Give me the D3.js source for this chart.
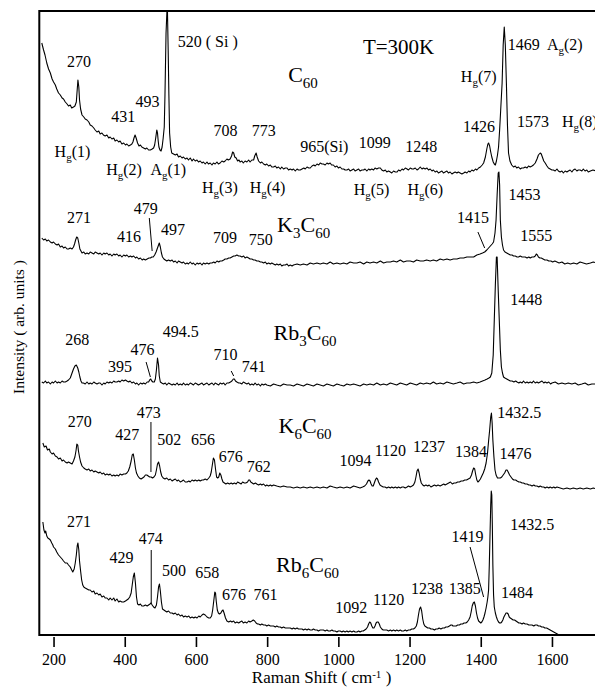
<!DOCTYPE html>
<html><head><meta charset="utf-8">
<script src="https://cdn.jsdelivr.net/npm/d3@7/dist/d3.min.js"></script>
<style>
body{margin:0;background:#fff}
svg{display:block}
svg text{font-family:"Liberation Serif","Tinos","Times New Roman","Noto Serif","DejaVu Serif",serif !important;fill:#000}
</style></head><body>
<svg id="c" width="595" height="689" font-family="Liberation Serif, DejaVu Serif, serif"></svg>
<script>
// ---------- data (Raman shift in cm^-1, intensity in arb. units incl. vertical offsets) ----------
const xTicks = [200,400,600,800,1000,1200,1400,1600];

const c60 = [[167,592],[172,585],[176,580],[181,572],[186,566],[191,562],[196,556],[200,553],[205,550],[209,546],[214,542],[219,540],[224,537],[228,536],[233,533],[238,531],[242,529],[247,530],[251,527],[256,528],[260,529],[264,533],[266,543],[268.5,555],[271,548],[273,535],[276,526],[280,520],[285,518],[289,516],[294,515],[299,513],[303,510],[308,509],[313,507],[317,505],[322,503],[327,504],[331,501],[336,502],[340,500],[345,499],[350,500],[355,497],[359,498],[364,496],[369,497],[373,494],[378,495],[383,493],[387,494],[392,491],[397,492],[402,490],[406,491],[411,489],[416,490],[420,491],[423,493],[426,497],[429,500],[432,497],[436,492],[440,489],[444,490],[448,488],[453,487],[458,486],[462,487],[467,485],[472,485],[477,486],[481,487],[484,490],[487,497],[490,505],[492,502],[494,494],[496,488],[499,485],[502,484],[505,488],[508,497],[511,508],[513,540],[516,602],[518.5,624],[520,624],[522,585],[524,540],[526,502],[529,488],[532,482],[537,481],[542,480],[547,481],[551,478],[556,479],[561,477],[565,478],[570,476],[575,477],[579,475],[584,477],[589,474],[593,476],[598,474],[603,475],[607,473],[612,474],[617,472],[621,473],[626,471],[631,473],[635,471],[640,472],[645,470],[649,472],[654,471],[659,473],[663,471],[668,472],[673,474],[678,473],[682,474],[687,476],[691,475],[696,476],[700,479],[703,483],[706,482],[709,478],[713,477],[717,474],[721,475],[724,473],[729,474],[733,472],[738,474],[743,473],[748,475],[752,473],[757,475],[762,475],[765,479],[769,482],[772,478],[776,474],[781,472],[785,473],[790,471],[795,470],[799,471],[804,469],[809,470],[813,468],[818,468],[823,469],[827,467],[832,468],[837,466],[841,468],[846,466],[851,467],[856,467],[860,465],[865,466],[870,465],[874,466],[879,464],[884,466],[888,465],[893,465],[898,466],[903,467],[907,466],[912,468],[917,467],[921,467],[926,469],[931,470],[935,469],[940,471],[945,470],[949,472],[954,471],[958,471],[963,470],[968,472],[972,471],[977,472],[981,470],[986,470],[991,468],[996,469],[1000,467],[1005,468],[1010,466],[1015,466],[1019,465],[1024,465],[1029,466],[1033,464],[1038,465],[1043,466],[1047,464],[1052,465],[1057,466],[1061,464],[1066,465],[1071,465],[1075,466],[1080,464],[1085,466],[1089,465],[1094,466],[1099,465],[1103,467],[1108,466],[1113,467],[1118,467],[1122,465],[1127,464],[1132,465],[1136,463],[1141,464],[1146,463],[1150,462],[1155,464],[1160,463],[1165,463],[1169,465],[1174,464],[1179,466],[1183,465],[1188,467],[1193,466],[1197,465],[1202,467],[1207,466],[1211,466],[1216,467],[1221,465],[1225,466],[1230,468],[1235,466],[1239,467],[1244,466],[1249,467],[1253,465],[1258,466],[1263,464],[1267,465],[1272,463],[1277,464],[1281,462],[1286,463],[1291,464],[1295,462],[1300,463],[1305,464],[1309,462],[1314,463],[1319,461],[1323,462],[1328,463],[1333,462],[1337,463],[1342,462],[1347,461],[1352,462],[1356,463],[1361,462],[1366,464],[1370,463],[1375,465],[1380,464],[1385,466],[1389,465],[1394,467],[1399,468],[1404,470],[1408,472],[1413,478],[1417,486],[1420,491],[1422,492],[1425,489],[1428,483],[1431,478],[1435,473],[1438,471],[1441,470],[1444,474],[1447,480],[1450,488],[1453,505],[1456,525],[1460,552],[1463,590],[1466,608],[1469,590],[1472,552],[1475,510],[1478,482],[1482,474],[1487,470],[1492,468],[1497,469],[1501,467],[1506,468],[1511,466],[1515,467],[1520,467],[1525,468],[1530,467],[1534,469],[1539,468],[1544,469],[1548,470],[1553,472],[1558,476],[1562,480],[1567,482],[1570,481],[1574,477],[1577,474],[1581,472],[1586,469],[1590,467],[1595,466],[1600,465],[1604,465],[1609,464],[1614,466],[1618,464],[1623,463],[1628,464],[1632,462],[1637,464],[1642,463],[1646,464],[1651,465],[1656,463],[1660,465],[1665,466],[1670,464],[1674,465],[1679,465],[1684,464],[1688,466],[1693,464],[1698,465],[1702,463],[1708,464],[1715,465],[1725,464]];

const k3c60 = [[167,397],[172,395],[177,396],[181,394],[186,395],[191,393],[196,392],[200,393],[205,391],[210,390],[214,391],[219,388],[224,389],[228,387],[233,388],[238,386],[242,386],[247,387],[252,386],[256,388],[259,391],[262,395],[265,398],[268,397],[271,392],[274,386],[277,384],[280,382],[285,383],[289,381],[294,382],[299,381],[303,383],[308,382],[313,381],[317,383],[322,382],[327,381],[331,382],[336,380],[341,382],[345,381],[350,382],[355,380],[359,381],[364,379],[369,381],[373,380],[378,381],[383,379],[387,380],[392,378],[397,380],[402,379],[406,380],[411,378],[416,379],[420,378],[425,379],[430,377],[434,378],[439,376],[444,377],[449,375],[453,376],[458,375],[463,376],[468,377],[472,377],[476,378],[480,378],[484,380],[488,383],[491,386],[494,389],[497,392],[500,388],[503,382],[506,378],[510,376],[514,375],[518,374],[523,375],[528,374],[533,375],[537,373],[542,374],[547,372],[551,374],[556,373],[561,372],[565,373],[570,371],[575,372],[579,371],[584,373],[589,371],[593,372],[598,370],[603,372],[607,371],[612,372],[617,370],[621,372],[626,371],[631,372],[636,371],[640,372],[645,372],[650,373],[654,372],[659,374],[664,373],[668,374],[673,374],[678,375],[682,376],[687,376],[692,377],[696,377],[701,378],[706,379],[710,379],[715,380],[720,379],[724,379],[729,378],[734,379],[738,377],[743,378],[748,377],[752,376],[757,376],[762,375],[766,375],[771,374],[776,374],[781,373],[785,373],[790,372],[795,373],[799,371],[804,372],[809,371],[813,372],[818,371],[823,370],[827,371],[832,370],[837,371],[841,369],[846,370],[851,370],[856,371],[860,369],[865,370],[870,369],[874,370],[884,371],[893,370],[902,371],[912,370],[921,372],[930,371],[940,372],[949,371],[958,372],[968,371],[977,373],[986,371],[996,372],[1005,371],[1015,372],[1024,371],[1033,373],[1043,372],[1052,372],[1061,373],[1071,371],[1080,373],[1089,372],[1099,373],[1108,372],[1118,374],[1127,372],[1136,373],[1146,373],[1155,374],[1164,373],[1174,375],[1183,373],[1192,374],[1202,374],[1211,373],[1220,375],[1230,374],[1239,374],[1248,375],[1258,374],[1267,375],[1276,374],[1286,376],[1295,375],[1305,376],[1314,375],[1323,376],[1333,376],[1342,377],[1352,377],[1361,378],[1370,378],[1380,378],[1389,380],[1398,381],[1405,382],[1411,383],[1417,385],[1422,387],[1427,389],[1432,391],[1436,393],[1440,402],[1443,415],[1446,440],[1449,462],[1451,463],[1453,450],[1455,415],[1458,398],[1461,390],[1464,385],[1468,383],[1473,382],[1478,381],[1483,380],[1488,380],[1492,379],[1497,379],[1502,378],[1506,378],[1511,379],[1516,378],[1520,378],[1525,378],[1530,377],[1535,378],[1539,377],[1544,378],[1549,378],[1553,379],[1556,381],[1559,380],[1562,378],[1566,377],[1570,377],[1575,376],[1580,375],[1586,375],[1591,374],[1597,374],[1602,373],[1608,374],[1614,373],[1620,372],[1628,373],[1636,371],[1644,372],[1652,371],[1661,372],[1670,371],[1679,373],[1688,372],[1697,371],[1708,372],[1716,373],[1725,372]];

const rb3c60 = [[167,253],[172,252],[177,254],[181,252],[186,253],[191,251],[196,253],[200,252],[205,254],[210,252],[214,253],[219,252],[224,254],[228,253],[233,253],[238,254],[242,255],[247,257],[252,262],[256,266],[260,269],[264,270],[268,267],[271,263],[274,258],[277,254],[280,252],[284,252],[289,251],[294,253],[299,251],[303,252],[308,251],[313,253],[317,252],[322,251],[327,252],[331,252],[336,250],[341,252],[345,251],[350,253],[355,252],[359,253],[364,252],[369,254],[373,253],[378,253],[383,254],[387,253],[392,255],[397,254],[402,255],[406,254],[411,253],[415,254],[420,252],[425,253],[430,251],[434,252],[439,250],[444,252],[449,251],[453,252],[458,251],[463,253],[467,253],[470,255],[473,256],[476,254],[479,253],[483,253],[486,256],[489,265],[492,277],[495,270],[497,259],[500,253],[504,252],[509,251],[514,252],[518,250],[523,252],[528,251],[533,250],[537,251],[542,250],[547,252],[551,250],[556,251],[561,250],[565,252],[570,250],[575,251],[579,250],[584,252],[589,251],[593,250],[598,252],[603,251],[607,250],[612,251],[617,252],[621,250],[626,251],[631,252],[636,250],[640,251],[645,252],[650,250],[654,252],[659,251],[664,250],[668,252],[673,251],[678,252],[682,250],[687,252],[692,252],[697,253],[701,254],[705,256],[708,256],[711,254],[715,253],[720,252],[724,252],[729,251],[733,253],[738,252],[743,251],[748,252],[752,250],[757,251],[762,250],[766,252],[771,250],[776,251],[781,249],[785,251],[790,250],[795,251],[799,250],[809,249],[818,251],[827,250],[837,249],[846,251],[856,250],[865,250],[874,249],[884,251],[893,250],[902,249],[912,251],[921,250],[930,249],[940,251],[949,250],[958,249],[968,251],[977,250],[986,249],[996,251],[1005,250],[1015,249],[1024,251],[1033,250],[1043,251],[1052,250],[1061,249],[1071,251],[1080,250],[1089,251],[1099,250],[1108,252],[1118,250],[1127,251],[1136,250],[1146,252],[1155,251],[1164,250],[1174,252],[1183,251],[1192,250],[1202,252],[1211,251],[1220,250],[1230,252],[1239,251],[1248,252],[1258,251],[1267,253],[1276,251],[1286,252],[1295,251],[1305,253],[1314,252],[1323,251],[1333,252],[1342,253],[1352,251],[1361,252],[1370,252],[1380,253],[1389,252],[1398,253],[1405,254],[1412,255],[1418,256],[1423,257],[1427,258],[1431,262],[1435,280],[1438,315],[1441,350],[1444,378],[1446,378],[1449,345],[1452,315],[1455,285],[1458,268],[1461,262],[1464,258],[1468,257],[1473,256],[1478,255],[1483,254],[1488,254],[1493,253],[1498,254],[1502,253],[1507,252],[1511,253],[1516,252],[1520,254],[1525,252],[1530,253],[1534,252],[1539,253],[1544,252],[1548,254],[1553,252],[1558,253],[1562,252],[1567,253],[1572,254],[1577,252],[1581,253],[1586,252],[1591,253],[1596,251],[1600,252],[1609,253],[1618,251],[1628,252],[1637,251],[1646,252],[1656,251],[1665,252],[1674,250],[1684,251],[1693,252],[1702,250],[1712,251],[1725,251]];

const k6c60 = [[170,192],[174,188],[179,189],[183,185],[188,186],[191,183],[196,181],[200,182],[205,179],[210,178],[214,176],[219,177],[224,174],[228,175],[233,173],[238,172],[242,173],[247,172],[252,171],[256,174],[260,178],[263,184],[265.5,191],[268,190],[270,184],[273,178],[276,173],[280,169],[285,167],[289,166],[294,165],[299,166],[303,164],[308,165],[313,163],[317,164],[322,163],[327,162],[331,163],[336,161],[341,162],[345,160],[350,161],[355,160],[359,161],[364,159],[369,160],[373,159],[378,160],[383,159],[387,161],[392,160],[397,161],[402,161],[406,162],[410,164],[414,168],[418,174],[421,180],[424,181],[427,175],[430,167],[433,162],[437,159],[441,157],[446,156],[450,157],[454,158],[458,160],[462,160],[466,159],[470,158],[474,158],[478,157],[482,158],[486,160],[489,165],[492,171],[495,173],[498,169],[501,163],[504,159],[508,157],[513,156],[518,157],[523,155],[528,156],[533,154],[537,155],[542,156],[547,154],[551,155],[556,153],[561,154],[565,155],[570,153],[575,153],[580,154],[584,153],[589,155],[594,154],[598,155],[603,154],[608,155],[612,154],[617,155],[621,155],[626,156],[631,155],[636,157],[640,159],[643,163],[646,170],[649,177],[652,175],[655,166],[658,158],[661,157],[664,158],[667,162],[670,160],[673,156],[676,153],[680,152],[684,151],[689,152],[694,151],[699,152],[703,151],[708,152],[713,151],[717,153],[722,152],[727,151],[731,153],[736,152],[740,152],[745,153],[748,155],[751,155],[754,153],[758,152],[762,151],[767,152],[771,151],[776,150],[781,151],[785,150],[790,151],[795,149],[799,150],[804,149],[809,150],[813,149],[818,150],[827,149],[837,148],[846,149],[856,148],[865,148],[874,147],[884,148],[893,147],[902,148],[912,147],[921,148],[930,147],[940,148],[949,147],[958,148],[968,147],[977,149],[986,148],[996,147],[1005,148],[1015,147],[1024,148],[1033,147],[1043,149],[1052,148],[1061,147],[1068,148],[1074,149],[1079,151],[1083,154],[1086,155],[1089,154],[1092,151],[1095,149],[1098,149],[1101,152],[1104,155],[1107,157],[1110,156],[1113,153],[1117,150],[1121,149],[1126,148],[1131,148],[1136,147],[1141,148],[1146,147],[1150,148],[1155,147],[1160,148],[1165,147],[1169,148],[1174,147],[1179,148],[1183,148],[1188,147],[1193,148],[1197,149],[1202,148],[1207,149],[1211,150],[1215,153],[1218,158],[1221,164],[1224,166],[1227,162],[1230,156],[1233,152],[1237,150],[1241,149],[1246,150],[1251,149],[1255,150],[1260,148],[1265,149],[1270,150],[1275,149],[1280,150],[1286,149],[1291,150],[1296,151],[1300,150],[1305,151],[1310,152],[1315,153],[1320,151],[1325,152],[1330,152],[1335,153],[1340,153],[1345,154],[1350,154],[1355,155],[1360,155],[1365,156],[1370,157],[1374,160],[1377,164],[1380,167],[1383,166],[1386,160],[1389,155],[1392,153],[1395,154],[1399,156],[1403,159],[1407,162],[1411,166],[1415,172],[1419,182],[1422,194],[1425,205],[1428,218],[1430,222],[1432,212],[1434,195],[1437,178],[1440,165],[1443,160],[1447,157],[1451,157],[1455,157],[1459,158],[1463,160],[1467,162],[1471,165],[1474,165],[1477,163],[1481,160],[1485,158],[1489,156],[1493,155],[1498,155],[1502,154],[1507,153],[1511,153],[1516,152],[1520,152],[1525,151],[1530,151],[1535,150],[1539,150],[1544,149],[1549,150],[1553,149],[1558,149],[1563,148],[1567,149],[1572,148],[1577,148],[1581,147],[1586,148],[1591,147],[1595,148],[1600,147],[1605,148],[1609,147],[1614,148],[1623,147],[1632,146],[1642,147],[1651,146],[1660,147],[1670,146],[1679,147],[1688,146],[1698,147],[1708,146],[1716,147],[1725,146]];

const rb6c60 = [[170,113],[173,105],[176,102],[178,104],[181,99],[184,97],[188,96],[191,95],[195,92],[198,90],[200,88],[205,86],[209,83],[214,80],[219,78],[224,76],[228,74],[233,72],[238,72],[242,70],[247,68],[251,65],[254,63],[258,66],[261,72],[264,80],[266.5,89],[268.5,92],[271,85],[273,74],[276,64],[279,55],[282,50],[285,48],[289,47],[294,46],[299,45],[303,45],[308,43],[313,44],[317,41],[322,42],[327,40],[331,41],[336,38],[341,39],[345,37],[350,37],[355,35],[359,37],[364,35],[369,37],[373,34],[378,36],[383,33],[387,34],[392,33],[397,33],[402,34],[406,35],[410,36],[414,38],[418,42],[421,50],[424,58],[427,62],[430,52],[433,38],[436,31],[440,30],[444,31],[448,29],[453,29],[458,30],[463,29],[467,30],[471,31],[474,32],[477,30],[481,28],[485,27],[489,30],[492,38],[495,48],[497.5,51],[500,44],[503,33],[506,26],[510,25],[514,24],[518,23],[523,24],[528,22],[533,22],[537,21],[542,22],[547,20],[551,21],[556,19],[561,20],[565,18],[570,19],[575,18],[580,19],[584,17],[589,18],[594,17],[598,18],[603,17],[608,19],[612,18],[617,20],[621,21],[626,20],[631,18],[636,17],[640,17],[644,19],[647,25],[650,34],[653,43],[655,42],[657,34],[660,25],[663,22],[666,21],[670,22],[673,24],[676,25],[679,22],[683,17],[687,14],[692,13],[697,14],[701,13],[706,14],[710,12],[715,13],[720,12],[724,13],[729,14],[733,12],[738,13],[743,12],[748,14],[752,13],[757,14],[761,15],[765,14],[769,12],[773,11],[776,11],[781,10],[785,11],[790,10],[795,10],[799,9],[804,10],[809,9],[813,9],[818,9],[823,8],[827,9],[832,8],[837,8],[841,7],[846,8],[851,7],[856,7],[860,7],[865,7],[870,6],[874,7],[879,6],[884,7],[888,6],[893,6],[898,6],[902,5],[907,6],[912,5],[916,6],[921,5],[926,5],[930,6],[935,5],[940,5],[944,4],[949,5],[954,5],[958,5],[963,4],[968,5],[972,4],[977,4],[982,5],[986,4],[991,4],[996,3],[1000,4],[1005,4],[1010,3],[1014,4],[1019,3],[1024,4],[1028,3],[1033,4],[1038,3],[1043,4],[1047,3],[1052,3],[1057,4],[1061,3],[1066,4],[1070,4],[1074,5],[1078,6],[1082,8],[1085,11],[1088,13],[1091,12],[1094,9],[1097,7],[1100,7],[1103,9],[1106,12],[1109,13],[1112,13],[1115,11],[1118,8],[1122,6],[1126,5],[1131,5],[1136,5],[1141,4],[1146,5],[1150,4],[1155,5],[1160,4],[1164,5],[1169,4],[1174,5],[1178,4],[1183,4],[1188,5],[1192,4],[1197,5],[1202,5],[1206,6],[1211,6],[1215,7],[1219,9],[1222,13],[1225,20],[1228,26],[1231,28],[1234,24],[1237,16],[1240,11],[1243,9],[1247,8],[1251,7],[1256,7],[1260,6],[1265,6],[1270,5],[1274,6],[1279,6],[1283,7],[1288,6],[1293,7],[1298,7],[1302,8],[1307,8],[1312,9],[1316,10],[1319,10],[1322,9],[1326,9],[1331,9],[1335,10],[1340,10],[1344,11],[1349,11],[1353,12],[1358,12],[1362,13],[1366,15],[1370,18],[1373,23],[1376,29],[1379,32],[1382,33],[1385,29],[1388,22],[1391,17],[1394,14],[1397,13],[1400,12],[1403,13],[1406,15],[1409,18],[1412,22],[1415,27],[1418,33],[1420,38],[1422,45],[1424,70],[1426,100],[1428,130],[1429.5,144],[1431,140],[1432.5,110],[1434,70],[1436,40],[1438,28],[1441,22],[1444,18],[1447,15],[1450,13],[1453,12],[1456,12],[1459,13],[1462,15],[1465,18],[1468,20],[1471,22],[1474,22],[1477,21],[1480,18],[1483,17],[1487,16],[1491,15],[1495,15],[1499,14],[1503,13],[1507,12],[1511,12],[1516,11],[1520,12],[1525,11],[1530,11],[1535,10],[1539,10],[1544,10],[1549,9],[1553,10],[1558,10],[1562,9],[1567,9],[1571,8],[1576,8],[1580,7],[1585,7],[1590,6],[1595,5],[1600,4],[1605,3],[1610,2],[1615,1],[1620,0]];

const series = [c60, k3c60, rb3c60, k6c60, rb6c60];

// peak / mode annotations: [text, shift, intensity]  (_ = subscript, ^ = superscript)
const peakLabels = [
 ["270",238,568],["520 ( Si )",549,588],["431",362,513],["493",430,528],
 ["H_g(1)",203,478],["H_g(2)",348,460],["A_g(1)",472,460],
 ["708",649,499],["773",757,499],["H_g(3)",617,442],["H_g(4)",751,442],
 ["1469  A_g(2)",1476,585],["H_g(7)",1344,553],["1426",1350,503],["1573",1502,508],["H_g(8)",1628,508],
 ["965(Si)",893,483],["1099",1057,487],["1248",1188,483],["H_g(5)",1043,440],["H_g(6)",1194,440],
 ["271",238,412],["479",425,421],["416",378,393],["497",502,400],["709",648,392],["750",748,390],
 ["1453",1478,435],["1415",1333,412],["1555",1511,394],
 ["268",233,290],["494.5",507,298],["476",416,280],["395",353,263],["710",649,275],["741",729,263],["1448",1483,330],
 ["270",240,208],["473",434,217],["427",373,195],["502",491,190],["656",586,190],["676",664,173],["762",743,163],
 ["1432.5",1446,217],["1094",1003,169],["1120",1102,179],["1237",1210,183],["1384",1328,178],["1476",1453,176],
 ["271",238,108],["474",439,91],["429",357,72],["500",505,59],["658",598,57],["676",673,35],["761",762,35],
 ["1432.5",1483,105],["1419",1318,93],["1238",1204,41],["1385",1310,41],["1120",1097,30],["1092",991,22],["1484",1457,37]
];

const sampleLabels = [["C_60",859,553],["K_3C_60",828,403],["Rb_3C_60",818,295],["K_6C_60",832,202],["Rb_6C_60",825,63]];
const tempLabel = ["T=300K",1069,581];

// leader lines: [shift1, int1, shift2, int2]
const leaders = [[469,417,477,384],[1392,403,1411,387],[460,273,472,258],[699,264,706,259],
 [473.6,213,473.6,163],[474.4,85,474.4,32],[1370,88,1408,38]];

// ---------- drawing ----------
const FONT = '"Liberation Serif","Tinos","Times New Roman","Noto Serif","DejaVu Serif",serif';
const svg = d3.select("#c");
const x = d3.scaleLinear().domain([160,1740]).range([39.3,601.8]);
const y = d3.scaleLinear().domain([0,624]).range([635,11]);

svg.append("defs").append("clipPath").attr("id","clip")
  .append("rect").attr("x",x(160)).attr("y",y(624)).attr("width",x(1740)-x(160)).attr("height",y(0)-y(624));

const line = d3.line().x(d=>x(d[0])).y(d=>y(Math.min(d[1],624)));
svg.append("g").attr("clip-path","url(#clip)").selectAll("path.trace").data(series).join("path")
  .attr("class","trace").attr("d",line).attr("fill","none").attr("stroke","#000")
  .attr("stroke-width",1.1).attr("stroke-linejoin","round");

// frame
const frame = svg.append("g").attr("stroke","#000").attr("stroke-width",2).attr("fill","none");
frame.append("path").attr("d",`M${x(1740)},${y(624)}H${x(160)}V${y(0)}H${x(1740)}`);

// x axis
const ax = svg.append("g").attr("transform",`translate(0,${y(0)+2})`)
  .call(d3.axisBottom(x).tickValues(xTicks).tickSize(10).tickFormat(d3.format("d")));
ax.attr("font-family",null).attr("font-size",null);
ax.select(".domain").remove();
ax.selectAll(".tick line").attr("stroke","#000").attr("stroke-width",1.6);
ax.selectAll(".tick text").attr("y",28).attr("dy",0)
  .style("font-family",FONT).style("font-size","16px").attr("fill","#000");

// rich text helper
function rich(sel, str, size, subSize, shift){
  const parts = str.split(/(_[0-9a-z]+|\^-?[0-9]+)/).filter(s=>s.length);
  let off = 0;
  parts.forEach(p=>{
    const t = sel.append("tspan").style("font-family",FONT);
    if(p[0]==="_"){ t.text(p.slice(1)).style("font-size",subSize+"px").attr("dy",shift-off); off=shift; }
    else if(p[0]==="^"){ t.text(p.slice(1)).style("font-size",subSize+"px").attr("dy",-shift*1.3-off); off=-shift*1.3; }
    else { t.text(p).attr("dy",-off); off=0; }
  });
}
function label(str, w, v, size, subSize, shift, anchor){
  const t = svg.append("text").attr("x",x(w)).attr("y",y(v)).style("font-size",size+"px")
    .style("font-family",FONT).attr("text-anchor",anchor||"start").style("white-space","pre");
  rich(t,str,size,subSize,shift);
  return t;
}
peakLabels.forEach(d=>label(d[0],d[1],d[2],16,11,4));
sampleLabels.forEach(d=>label(d[0],d[1],d[2],22,15,6));
label(tempLabel[0],tempLabel[1],tempLabel[2],21,14,5);

svg.append("g").attr("stroke","#000").attr("stroke-width",1).selectAll("line").data(leaders).join("line")
  .attr("x1",d=>x(d[0])).attr("y1",d=>y(d[1])).attr("x2",d=>x(d[2])).attr("y2",d=>y(d[3]));

// axis titles
const xt = svg.append("text").attr("x",(x(160)+x(1740))/2+1).attr("y",683).attr("text-anchor","middle")
  .style("font-size","17px").style("font-family",FONT);
rich(xt,"Raman Shift ( cm^-1 )",17,11,4);
svg.append("text").attr("transform","translate(24,327) rotate(-90)").attr("text-anchor","middle")
  .style("font-size","15.5px").style("font-family",FONT).text("Intensity ( arb. units )");
</script></body></html>
